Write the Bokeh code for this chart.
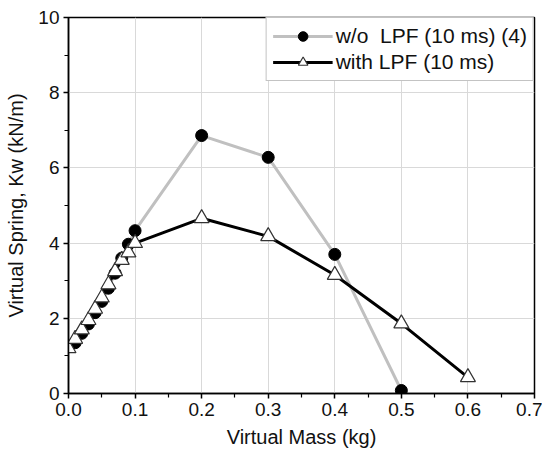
from bokeh.plotting import figure
from bokeh.models import ColumnDataSource, Range1d, FixedTicker, Legend, LegendItem
from bokeh.embed import file_html
from bokeh.resources import INLINE

mass_wo = [0.0, 0.01, 0.02, 0.03, 0.04, 0.05, 0.06, 0.07, 0.08, 0.09, 0.1, 0.2, 0.3, 0.4, 0.5]
kw_wo = [1.25, 1.35, 1.6, 1.85, 2.15, 2.45, 2.8, 3.2, 3.6, 3.97, 4.33, 6.86, 6.28, 3.70, 0.08]

mass_lpf = [0.0, 0.01, 0.02, 0.03, 0.04, 0.05, 0.06, 0.07, 0.08, 0.09, 0.1, 0.2, 0.3, 0.4, 0.5, 0.6]
kw_lpf = [1.2, 1.45, 1.7, 1.95, 2.25, 2.55, 2.9, 3.25, 3.55, 3.75, 4.0, 4.66, 4.18, 3.15, 1.86, 0.43]

x_ticks = [0.0, 0.1, 0.2, 0.3, 0.4, 0.5, 0.6, 0.7]
y_ticks = [0, 2, 4, 6, 8, 10]

FONT = "Liberation Sans"

p = figure(width=542, height=450, output_backend="svg", toolbar_location=None,
           x_range=Range1d(0, 0.7), y_range=Range1d(0, 10),
           min_border_left=68, min_border_right=8, min_border_top=17, min_border_bottom=57)
p.outline_line_color = "black"
p.outline_line_width = 1.5

src_wo = ColumnDataSource(dict(x=mass_wo, y=kw_wo))
src_lpf = ColumnDataSource(dict(x=mass_lpf, y=kw_lpf))

l1 = p.line("x", "y", source=src_wo, line_color="#c0c0c0", line_width=3)
m1 = p.scatter("x", "y", source=src_wo, marker="circle", size=12, fill_color="black", line_color="black")
l2 = p.line("x", "y", source=src_lpf, line_color="black", line_width=3)
m2 = p.scatter("x", "y", source=src_lpf, marker="triangle", size=15, fill_color="white",
               line_color="#333333", line_width=1.2)

legend = Legend(items=[
    LegendItem(label="w/o  LPF (10 ms) (4)", renderers=[l1, m1]),
    LegendItem(label="with LPF (10 ms)", renderers=[l2, m2]),
], location="top_right")
legend.label_text_font = FONT
legend.label_text_font_size = "21px"
legend.label_text_color = "#111111"
legend.border_line_color = "#888888"
legend.border_line_width = 1
legend.margin = 0
legend.padding = 6
legend.spacing = 2
legend.glyph_width = 60
legend.glyph_height = 24
legend.label_height = 24
legend.label_standoff = 3
legend.background_fill_alpha = 1
p.add_layout(legend)

for ax in (p.xaxis[0], p.yaxis[0]):
    ax.axis_line_color = "black"
    ax.axis_line_width = 1.5
    ax.major_tick_line_color = "black"
    ax.minor_tick_line_color = "black"
    ax.major_tick_line_width = 1.5
    ax.minor_tick_line_width = 1.2
    ax.major_tick_in = 0
    ax.major_tick_out = 5
    ax.minor_tick_in = 0
    ax.minor_tick_out = 4
    ax.major_label_standoff = 4
    ax.major_label_text_font = FONT
    ax.major_label_text_font_size = "19px"
    ax.major_label_text_color = "#111111"
    ax.axis_label_text_font = FONT
    ax.axis_label_text_font_size = "20px"
    ax.axis_label_text_font_style = "normal"
    ax.axis_label_text_color = "#111111"

p.xaxis[0].ticker = FixedTicker(ticks=x_ticks, minor_ticks=[0.05, 0.15, 0.25, 0.35, 0.45, 0.55, 0.65])
p.yaxis[0].ticker = FixedTicker(ticks=y_ticks, minor_ticks=[1, 3, 5, 7, 9])
p.xaxis[0].major_label_overrides = {t: f"{t:.1f}" for t in x_ticks}
p.xaxis[0].axis_label = "Virtual Mass (kg)"
p.yaxis[0].axis_label = "Virtual Spring, Kw (kN/m)"
p.xaxis[0].axis_label_standoff = 7
p.yaxis[0].axis_label_standoff = 8

p.xgrid[0].grid_line_color = "#d9d9d9"
p.ygrid[0].grid_line_color = "#d9d9d9"
p.xgrid[0].ticker = p.xaxis[0].ticker
p.ygrid[0].ticker = p.yaxis[0].ticker

open("out.html", "w").write(file_html(p, INLINE))
